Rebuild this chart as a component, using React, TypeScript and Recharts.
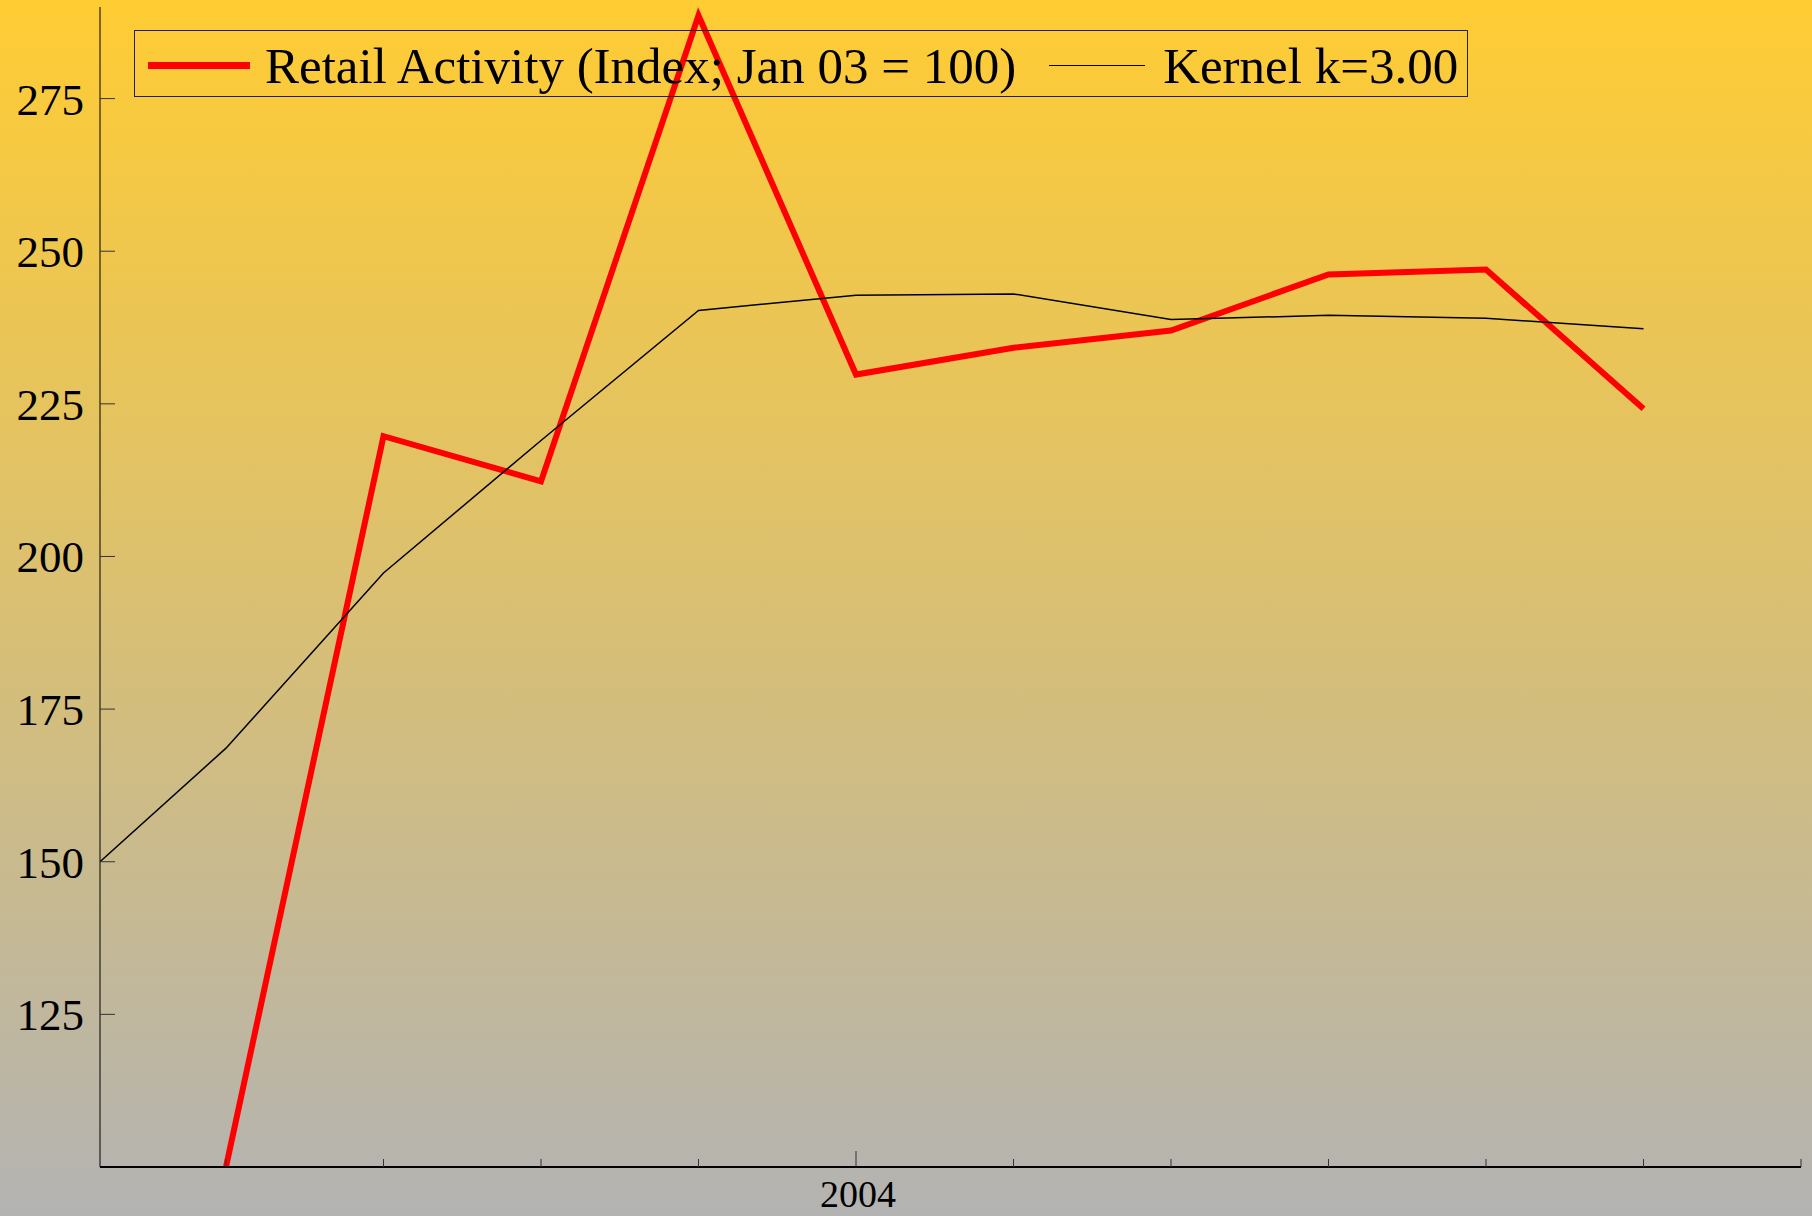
import React from "react";
import { LineChart, Line, XAxis, YAxis, Legend } from "recharts";

// x is months from Jan 2004 (Sep 2003 = -4 ... Jun 2004 = 5)
const retailMonths = [-4, -3, -2, -1, 0, 1, 2, 3, 4, 5];
const retailValues = [100, 219.7, 212.3, 288.6, 229.8, 234.2, 237.0, 246.2, 247.0, 224.2];

const kernelMonths = [-4.8, -4, -3, -2, -1, 0, 1, 2, 3, 4, 5];
const kernelValues = [150, 168.6, 197.3, 219.0, 240.3, 242.8, 243.0, 238.8, 239.5, 239.0, 237.3];

const xTicks = [-4, -3, -2, -1, 0, 1, 2, 3, 4, 5, 6];
const xTickLabels: Record<number, string> = { 0: "2004" };
const yTicks = [125, 150, 175, 200, 225, 250, 275];

const RETAIL_NAME = "Retail Activity (Index; Jan 03 = 100)";
const KERNEL_NAME = "Kernel k=3.00";

const FONT = '"Liberation Serif", "Times New Roman", serif';

const rows = kernelMonths.map((m, i) => {
  const j = retailMonths.indexOf(m);
  return {
    x: m,
    kernel: kernelValues[i],
    retail: j >= 0 ? retailValues[j] : undefined,
  };
});

function XTick(props: any) {
  const { x, y, payload } = props;
  const label = xTickLabels[payload.value];
  return (
    <g>
      <line
        x1={x}
        x2={x}
        y1={y}
        y2={y - (label ? 16 : 8)}
        stroke="#333"
        strokeWidth={1}
      />
      {label && (
        <text
          x={x + 2}
          y={y + 40}
          textAnchor="middle"
          fontSize={38}
          fontFamily={FONT}
          fill="#000"
        >
          {label}
        </text>
      )}
    </g>
  );
}

function LegendBox() {
  const text: React.CSSProperties = { position: "relative", top: 2 };
  return (
    <div
      style={{
        boxSizing: "border-box",
        width: 1334,
        height: 67,
        border: "1px solid #222",
        display: "flex",
        alignItems: "center",
        fontFamily: FONT,
        fontSize: 51,
        lineHeight: "50px",
        color: "#000",
        whiteSpace: "nowrap",
      }}
    >
      <span
        style={{
          display: "inline-block",
          width: 102,
          height: 7,
          background: "#ff0000",
          marginLeft: 13,
          position: "relative",
          top: 2,
        }}
      />
      <span style={{ ...text, marginLeft: 15 }}>{RETAIL_NAME}</span>
      <span
        style={{
          display: "inline-block",
          width: 96,
          height: 1.5,
          background: "#000",
          marginLeft: 33,
          position: "relative",
          top: 2,
        }}
      />
      <span style={{ ...text, marginLeft: 18 }}>{KERNEL_NAME}</span>
    </div>
  );
}

export default function App() {
  return (
    <div
      style={{
        position: "absolute",
        left: 0,
        top: 0,
        width: 1812,
        height: 1216,
        background: "linear-gradient(to bottom, #ffcc33 0%, #b3b3b3 100%)",
      }}
    >
      <LineChart
        width={1812}
        height={1216}
        data={rows}
        margin={{ top: 7, right: 11, bottom: 0, left: 0 }}
      >
        <XAxis
          type="number"
          dataKey="x"
          domain={[-4.8, 6]}
          ticks={xTicks}
          allowDataOverflow
          height={49}
          tickSize={0}
          tickMargin={0}
          tickLine={false}
          axisLine={{ stroke: "#000", strokeWidth: 2 }}
          tick={<XTick />}
          interval={0}
        />
        <YAxis
          type="number"
          domain={[100, 290]}
          ticks={yTicks}
          allowDataOverflow
          width={100}
          tickSize={-15}
          tickMargin={31}
          axisLine={{ stroke: "#000", strokeWidth: 1 }}
          tickLine={{ stroke: "#333", strokeWidth: 1 }}
          tick={{ fontSize: 45, fontFamily: FONT, fill: "#000" }}
          interval={0}
        />
        <Legend
          layout="horizontal"
          verticalAlign="middle"
          align="center"
          content={<LegendBox />}
          wrapperStyle={{ left: 134, top: 30, width: 1334, height: 67 }}
        />
        <Line
          type="linear"
          dataKey="retail"
          name={RETAIL_NAME}
          stroke="#ff0000"
          strokeWidth={6}
          dot={false}
          activeDot={false}
          isAnimationActive={false}
        />
        <Line
          type="linear"
          dataKey="kernel"
          name={KERNEL_NAME}
          stroke="#000"
          strokeWidth={1.5}
          dot={false}
          activeDot={false}
          isAnimationActive={false}
        />
      </LineChart>
    </div>
  );
}
